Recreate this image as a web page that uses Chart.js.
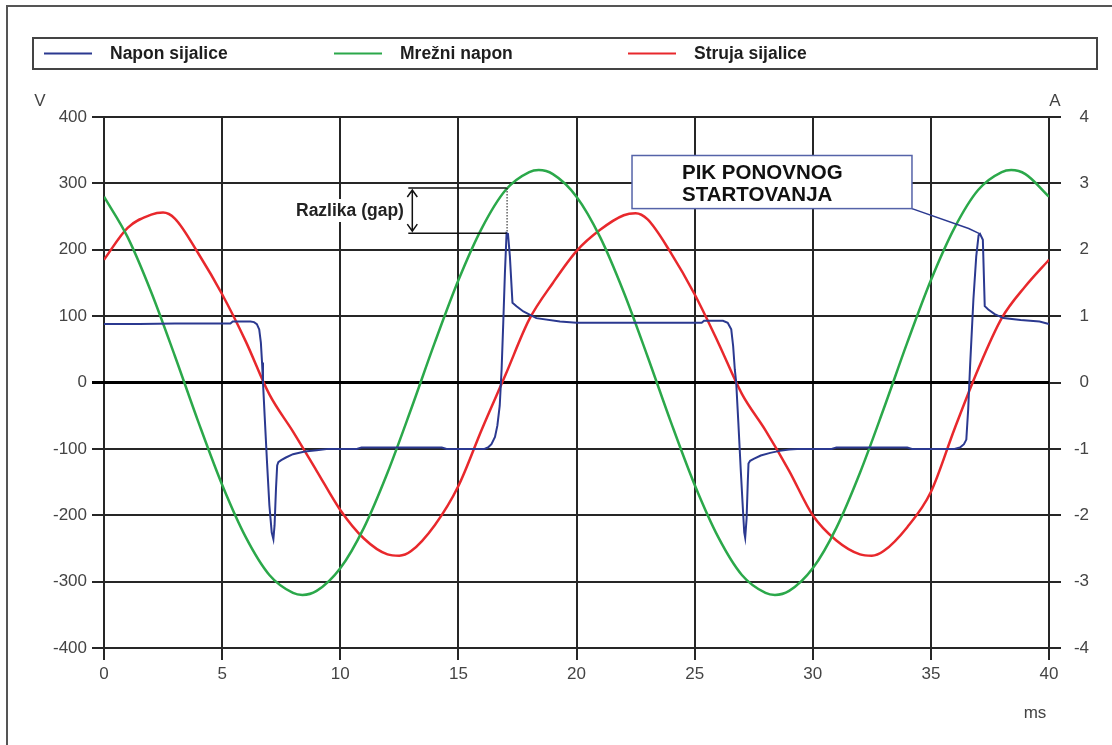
<!DOCTYPE html>
<html>
<head>
<meta charset="utf-8">
<title>Napon i struja sijalice</title>
<script src="https://cdn.jsdelivr.net/npm/chart.js@4.4.1/dist/chart.umd.min.js"></script>
<style>
  html, body { margin: 0; padding: 0; background: #fff; }
  #wrap { position: relative; width: 1112px; height: 745px; }
</style>
</head>
<body>
<div id="wrap"><canvas id="chart" width="1112" height="745"></canvas></div>
<script>
// Lamp voltage (V) vs time (ms)
const lampTime = [
  0, 1.5, 3.0, 4.5, 5.35, 5.45, 6.2, 6.35, 6.47, 6.57, 6.64, 6.69, 6.73, 6.8, 6.9,
  7.0, 7.1, 7.17, 7.22, 7.28, 7.33, 7.38, 7.5, 7.7, 8.0, 8.5, 9.0, 9.5, 10.7, 10.9,
  14.3, 14.5, 16.1, 16.25, 16.4, 16.55, 16.65, 16.75, 16.83, 16.9, 16.97, 17.04, 17.1,
  17.18, 17.29, 17.46, 17.75, 18.3, 19.3, 20.0,
  21.5, 23.0, 24.5, 25.3, 25.4, 26.2, 26.4, 26.55, 26.63, 26.7, 26.76, 26.85, 26.95,
  27.05, 27.1, 27.14, 27.2, 27.25, 27.28, 27.35, 27.5, 27.8, 28.2, 28.6, 29.0, 29.5,
  30.8, 31.0, 34.0, 34.2, 36.0, 36.23, 36.4, 36.5, 36.58, 36.66, 36.8, 36.92, 37.02,
  37.08, 37.2, 37.28, 37.43, 37.7, 38.07, 38.8, 39.6, 40.0
];
const lampVolts = [
  88, 88, 89, 89, 89, 92, 92, 91, 88, 80, 60, 30, 0, -50, -120,
  -185, -226, -236, -215, -160, -125, -120, -117, -113, -108, -104, -102, -100, -100, -98,
  -98, -100, -100, -98, -93, -82, -65, -35, 20, 90, 165, 225, 224,
  190, 120, 115, 107, 97, 92, 90,
  90, 90, 90, 90, 93, 93, 90, 80, 55, 20, 0, -60, -130,
  -195, -226, -234, -205, -150, -122, -118, -115, -110, -106, -103, -101, -100,
  -100, -98, -98, -100, -100, -98, -93, -86, -40, 25, 125, 190, 222,
  224, 215, 115, 110, 103, 97, 94, 92, 88
];

// Mains voltage (V)
const mainsTime = [
  0, 1, 2, 3, 4, 5, 6, 7, 8, 8.4, 9, 10, 11, 12, 13, 14, 15, 16, 17, 18, 18.4, 19,
  20, 21, 22, 23, 24, 25, 26, 27, 28, 28.4, 29, 30, 31, 32, 33, 34, 35, 36, 37, 38, 38.4, 39, 40
];
const mainsVolts = [
  280, 219, 136, 40, -60, -154, -233, -290, -317, -320, -314, -280, -219, -136, -40, 60, 154, 233, 290, 317, 320, 314,
  280, 219, 136, 40, -60, -154, -233, -290, -317, -320, -314, -280, -219, -136, -40, 60, 154, 233, 290, 317, 320, 314, 280
];

// Lamp current (A)
const currentTime = [
  0, 1, 2, 2.5, 3, 4, 5, 6, 7, 8, 9, 10, 11, 12, 12.5, 13, 14, 15, 16, 17, 18, 19,
  20, 21, 22, 22.5, 23, 24, 25, 26, 27, 28, 29, 30, 31, 32, 32.5, 33, 34, 35, 36, 37, 38, 39, 40
];
const currentAmps = [
  1.85, 2.33, 2.53, 2.56, 2.47, 1.94, 1.33, 0.62, -0.18, -0.74, -1.33, -1.92, -2.35, -2.59, -2.61, -2.54, -2.15, -1.56, -0.70, 0.12, 0.95, 1.50,
  1.98, 2.30, 2.52, 2.55, 2.46, 1.95, 1.33, 0.60, -0.17, -0.72, -1.33, -2.0, -2.38, -2.59, -2.61, -2.54, -2.18, -1.65, -0.70, 0.20, 0.97, 1.45, 1.85
];

const timeTicks = [0, 5, 10, 15, 20, 25, 30, 35, 40];
const voltTicks = [-400, -300, -200, -100, 0, 100, 200, 300, 400];
const ampTicks = [-4, -3, -2, -1, 0, 1, 2, 3, 4];

const seriesNames = ['Napon sijalice', 'Mrežni napon', 'Struja sijalice'];
const seriesColors = ['#2b3990', '#2ba84a', '#e8282c'];

const FONT = "'Liberation Sans', Arial, sans-serif";
const GRID = '#262626';
const legendX = [44, 334, 628];

function points(ts, vs) {
  return ts.map((t, i) => ({ x: t, y: vs[i] }));
}

function fixedTicks(list) {
  return (scale) => { scale.ticks = list.map(v => ({ value: v })); };
}

// frame, legend, unit labels and the two callouts
const overlay = {
  id: 'overlay',
  afterDraw(chart) {
    const { ctx } = chart;
    const sx = chart.scales.x, sy = chart.scales.y;
    ctx.save();

    ctx.strokeStyle = '#555';
    ctx.lineWidth = 2;
    ctx.beginPath();
    ctx.moveTo(7, 745);
    ctx.lineTo(7, 6);
    ctx.lineTo(1112, 6);
    ctx.stroke();

    // legend
    ctx.strokeStyle = '#444';
    ctx.strokeRect(33, 38, 1064, 31);
    ctx.font = `bold 17.5px ${FONT}`;
    ctx.textBaseline = 'middle';
    ctx.textAlign = 'left';
    chart.data.datasets.forEach((ds, i) => {
      const lx = legendX[i];
      ctx.strokeStyle = ds.borderColor;
      ctx.lineWidth = 2;
      ctx.beginPath();
      ctx.moveTo(lx, 53.5);
      ctx.lineTo(lx + 48, 53.5);
      ctx.stroke();
      ctx.fillStyle = '#1e1e1e';
      ctx.fillText(ds.label, lx + 66, 54);
    });

    // axis units
    ctx.font = `17px ${FONT}`;
    ctx.fillStyle = '#444';
    ctx.textAlign = 'center';
    ctx.fillText('V', 40, 101);
    ctx.fillText('A', 1055, 101);
    ctx.fillText('ms', 1035, 713);

    // gap between mains voltage and restrike peak
    const gx0 = sx.getPixelForValue(12.88);
    const gx1 = sx.getPixelForValue(17.04);
    const gyTop = sy.getPixelForValue(293);
    const gyBot = sy.getPixelForValue(225);
    const ax = sx.getPixelForValue(13.05);
    ctx.fillStyle = '#fff';
    ctx.fillRect(293, 199, 114, 23);
    ctx.strokeStyle = '#111';
    ctx.lineWidth = 1.5;
    ctx.beginPath();
    ctx.moveTo(gx0, gyTop); ctx.lineTo(gx1, gyTop);
    ctx.moveTo(gx0, gyBot); ctx.lineTo(gx1, gyBot);
    ctx.moveTo(ax, gyTop + 2); ctx.lineTo(ax, gyBot - 2);
    ctx.moveTo(ax - 5, gyTop + 9); ctx.lineTo(ax, gyTop + 2); ctx.lineTo(ax + 5, gyTop + 9);
    ctx.moveTo(ax - 5, gyBot - 9); ctx.lineTo(ax, gyBot - 2); ctx.lineTo(ax + 5, gyBot - 9);
    ctx.stroke();
    ctx.lineWidth = 1;
    ctx.setLineDash([1.5, 1.5]);
    ctx.beginPath();
    ctx.moveTo(gx1 + 0.5, gyTop); ctx.lineTo(gx1 + 0.5, gyBot);
    ctx.stroke();
    ctx.setLineDash([]);
    ctx.fillStyle = '#222';
    ctx.textAlign = 'left';
    ctx.font = `bold 17.5px ${FONT}`;
    ctx.fillText('Razlika (gap)', 296, 211);

    // restrike peak callout
    const bx0 = sx.getPixelForValue(22.35), bx1 = sx.getPixelForValue(34.2);
    const by0 = sy.getPixelForValue(342), by1 = sy.getPixelForValue(262);
    ctx.strokeStyle = seriesColors[0];
    ctx.lineWidth = 1.5;
    ctx.beginPath();
    ctx.moveTo(bx1, by1);
    ctx.lineTo(sx.getPixelForValue(36.6), sy.getPixelForValue(232));
    ctx.lineTo(sx.getPixelForValue(37.08), sy.getPixelForValue(224));
    ctx.stroke();
    ctx.fillStyle = '#fff';
    ctx.fillRect(bx0, by0, bx1 - bx0, by1 - by0);
    ctx.strokeStyle = '#5563a8';
    ctx.strokeRect(bx0, by0, bx1 - bx0, by1 - by0);
    ctx.fillStyle = '#111';
    ctx.font = `bold 20.5px ${FONT}`;
    ctx.fillText('PIK PONOVNOG', 682, 173);
    ctx.fillText('STARTOVANJA', 682, 195);

    ctx.restore();
  }
};

new Chart(document.getElementById('chart'), {
  type: 'line',
  data: {
    datasets: [
      { label: seriesNames[0], data: points(lampTime, lampVolts), borderColor: seriesColors[0], borderWidth: 2, tension: 0, yAxisID: 'y' },
      { label: seriesNames[1], data: points(mainsTime, mainsVolts), borderColor: seriesColors[1], borderWidth: 2.5, cubicInterpolationMode: 'monotone', yAxisID: 'y' },
      { label: seriesNames[2], data: points(currentTime, currentAmps), borderColor: seriesColors[2], borderWidth: 2.5, cubicInterpolationMode: 'monotone', yAxisID: 'y1' }
    ]
  },
  options: {
    responsive: false,
    animation: false,
    events: [],
    layout: { padding: { left: 0, top: 117, right: 23, bottom: 0 } },
    elements: { point: { radius: 0 } },
    plugins: { legend: { display: false }, tooltip: { enabled: false } },
    scales: {
      x: {
        type: 'linear', min: 0, max: 40,
        afterBuildTicks: fixedTicks(timeTicks),
        afterFit: (s) => { s.height = 97; },
        border: { display: false },
        grid: { color: GRID, lineWidth: 2, tickLength: 12 },
        ticks: { color: '#444', padding: 4, font: { family: FONT, size: 17 } }
      },
      y: {
        position: 'left', min: -400, max: 400,
        afterBuildTicks: fixedTicks(voltTicks),
        afterFit: (s) => { s.width = 104; },
        border: { display: false },
        grid: {
          color: (c) => c.tick && c.tick.value === 0 ? '#000' : GRID,
          lineWidth: (c) => c.tick && c.tick.value === 0 ? 3 : 2,
          tickLength: 12
        },
        ticks: { color: '#444', padding: 5, font: { family: FONT, size: 17 } }
      },
      y1: {
        position: 'right', min: -4, max: 4,
        afterBuildTicks: fixedTicks(ampTicks),
        afterFit: (s) => { s.width = 40; },
        border: { display: false },
        grid: { drawOnChartArea: false, color: GRID, lineWidth: 2, tickLength: 12 },
        ticks: { color: '#444', crossAlign: 'far', font: { family: FONT, size: 17 } }
      }
    }
  },
  plugins: [overlay]
});
</script>
</body>
</html>
